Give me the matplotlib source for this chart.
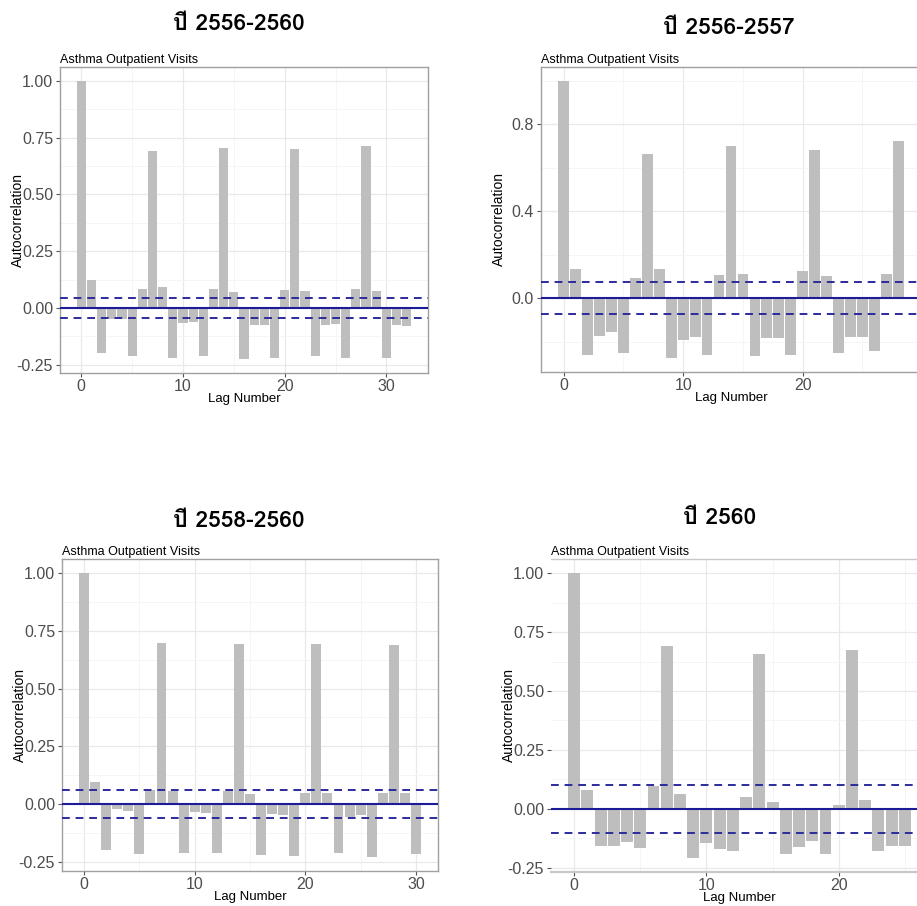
import numpy as np
import matplotlib
matplotlib.use("Agg")
import matplotlib.pyplot as plt
from matplotlib import font_manager
from matplotlib.ft2font import FT2Font
from matplotlib.ticker import MultipleLocator, FormatStrFormatter


# ACF values
acf_5yr = [1.00, 0.122, -0.199, -0.050, -0.050, -0.210, 0.084, 0.691, 0.093,
           -0.220, -0.066, -0.063, -0.210, 0.084, 0.703, 0.072, -0.225, -0.074,
           -0.075, -0.222, 0.081, 0.699, 0.076, -0.213, -0.076, -0.072, -0.220,
           0.084, 0.713, 0.076, -0.220, -0.076, -0.078]
acf_2yr = [1.00, 0.133, -0.262, -0.173, -0.158, -0.253, 0.092, 0.662, 0.133,
           -0.276, -0.192, -0.178, -0.262, 0.106, 0.700, 0.110, -0.265, -0.184,
           -0.184, -0.262, 0.126, 0.680, 0.100, -0.253, -0.178, -0.178, -0.245,
           0.113, 0.723]
acf_3yr = [1.00, 0.097, -0.200, -0.023, -0.029, -0.217, 0.061, 0.699, 0.058,
           -0.212, -0.033, -0.041, -0.214, 0.058, 0.694, 0.042, -0.222, -0.043,
           -0.049, -0.225, 0.046, 0.694, 0.049, -0.214, -0.055, -0.049, -0.229,
           0.049, 0.688, 0.049, -0.217]
acf_1yr = [1.00, 0.079, -0.156, -0.156, -0.142, -0.167, 0.096, 0.691, 0.061,
           -0.208, -0.144, -0.169, -0.178, 0.050, 0.659, 0.030, -0.194, -0.161,
           -0.137, -0.190, 0.017, 0.673, 0.037, -0.178, -0.160, -0.160]

n_obs = [1826, 730, 1096, 365]
headings = ["ปี 2556-2560", "ปี 2556-2557", "ปี 2558-2560", "ปี 2560"]
subtitle = "Asthma Outpatient Visits"


def find_thai_font():
    for f in font_manager.fontManager.ttflist:
        try:
            if 0x0E1B in FT2Font(f.fname).get_charmap():
                return f.name
        except Exception:
            continue
    return "DejaVu Sans"


thai_font = find_thai_font()
plt.rcParams["font.family"] = ["Liberation Sans", "DejaVu Sans"]

W, H = 917, 906
fig = plt.figure(figsize=(W / 100, H / 100), dpi=100)

# panel boxes in pixels: left, right, top, bottom
boxes = [(60, 428, 67, 373), (541, 921, 67, 372),
         (62, 438, 559, 871), (551, 928, 559, 872)]
head_pos = [(239, 24), (729, 28), (239, 521), (720, 518)]
series = [acf_5yr, acf_2yr, acf_3yr, acf_1yr]


def acf_panel(box, vals, n, two_dec=True, full_border=True):
    l, r, t, b = box
    ax = fig.add_axes([l / W, 1 - b / H, (r - l) / W, (b - t) / H])
    vals = np.array(vals)
    lags = np.arange(len(vals))
    ci = 1.96 / np.sqrt(n)

    ax.bar(lags, vals, width=0.9, color="#bebebe", zorder=2)
    ax.axhline(0, color="#1c1c9a", lw=1.5, zorder=3)
    for s in (ci, -ci):
        ax.axhline(s, color="#2b2b9c", lw=1.4, ls=(0, (4, 3)), zorder=3)

    lo = min(vals.min(), -ci)
    hi = vals.max()
    pad = 0.05 * (hi - lo)
    ax.set_ylim(lo - pad, hi + pad)
    span = len(vals) - 1 + 0.9
    ax.set_xlim(-0.45 - 0.05 * span, len(vals) - 1 + 0.45 + 0.05 * span)

    ax.xaxis.set_major_locator(MultipleLocator(10))
    ax.xaxis.set_minor_locator(MultipleLocator(5))
    if two_dec:
        ax.yaxis.set_major_locator(MultipleLocator(0.25))
        ax.yaxis.set_minor_locator(MultipleLocator(0.125))
        ax.yaxis.set_major_formatter(FormatStrFormatter("%.2f"))
    else:
        ax.yaxis.set_major_locator(MultipleLocator(0.4))
        ax.yaxis.set_minor_locator(MultipleLocator(0.2))
        ax.yaxis.set_major_formatter(FormatStrFormatter("%.1f"))

    ax.grid(True, which="major", color="#e9e9e9", lw=0.9, zorder=0)
    ax.grid(True, which="minor", color="#f4f4f4", lw=0.6, zorder=0)
    ax.set_axisbelow(True)
    ax.tick_params(which="major", length=3, width=0.8, color="#555555",
                   labelcolor="#4d4d4d", labelsize=11.5, pad=2)
    ax.tick_params(which="minor", length=0)
    ax.tick_params(axis="x", pad=1)

    for side, sp in ax.spines.items():
        sp.set_color("#a0a0a0")
        sp.set_linewidth(1.0)
    if not full_border:
        ax.spines["left"].set_visible(False)
        ax.spines["right"].set_visible(False)
        ax.spines["top"].set_color("#c8c8c8")
        ax.spines["bottom"].set_color("#c8c8c8")
        ax.spines["bottom"].set_linewidth(1.6)

    ax.set_title(subtitle, loc="left", fontsize=9, pad=3, color="black")
    ax.text(-42 / (r - l), 0.5, "Autocorrelation", transform=ax.transAxes,
            rotation=90, ha="center", va="center", fontsize=10)
    ax.text(0.5, -26 / (b - t), "Lag Number", transform=ax.transAxes,
            ha="center", va="center", fontsize=9.5)
    return ax


acf_panel(boxes[0], series[0], n_obs[0])
acf_panel(boxes[1], series[1], n_obs[1], two_dec=False)
acf_panel(boxes[2], series[2], n_obs[2])
acf_panel(boxes[3], series[3], n_obs[3], full_border=False)

for (x, y), txt in zip(head_pos, headings):
    fig.text(x / W, 1 - y / H, txt, ha="center", va="center", fontsize=16.5,
             fontweight="bold", family=[thai_font, "DejaVu Sans"])

fig.savefig("out.png", dpi=100)
